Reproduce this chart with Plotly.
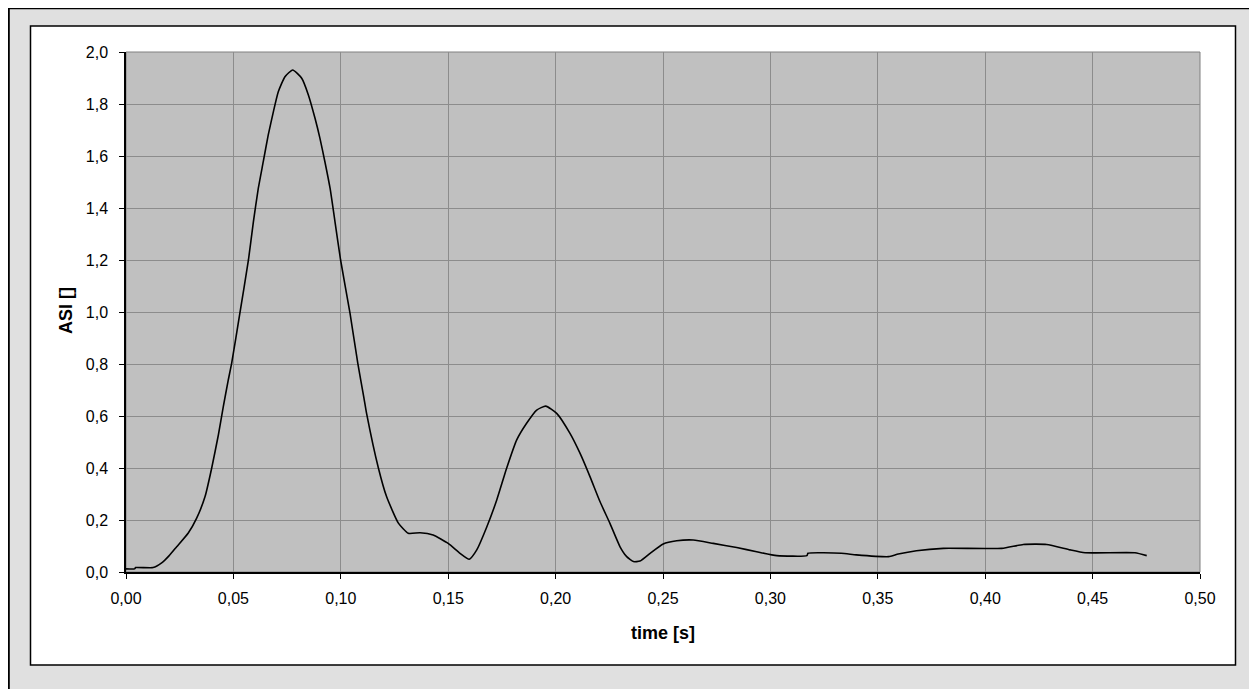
import plotly.graph_objects as go

time_s = [0.000, 0.004, 0.0045, 0.0126, 0.0166, 0.020, 0.0236, 0.029, 0.0329, 0.0368,
          0.0399, 0.043, 0.0453, 0.0476, 0.0492, 0.053, 0.057, 0.0593, 0.0616, 0.0639,
          0.0662, 0.0686, 0.0709, 0.074, 0.0776, 0.0818, 0.0849, 0.088, 0.0903, 0.0926,
          0.095, 0.0973, 0.0999, 0.1043, 0.1079, 0.1108, 0.112, 0.1175, 0.1213, 0.1268,
          0.1314, 0.1369, 0.143, 0.150, 0.1555, 0.1598, 0.1633, 0.168, 0.1726, 0.1772,
          0.1819, 0.1865, 0.1912, 0.1954, 0.2005, 0.2067, 0.2114, 0.216, 0.2207, 0.2253,
          0.230, 0.2331, 0.2362, 0.2393, 0.244, 0.2501, 0.2564, 0.2641, 0.2734, 0.2843,
          0.2936, 0.303, 0.317, 0.3175, 0.333, 0.340, 0.355, 0.3595, 0.368, 0.3805,
          0.4077, 0.4177, 0.4286, 0.4395, 0.4465, 0.4697, 0.4752]
asi = [0.012, 0.012, 0.017, 0.017, 0.035, 0.062, 0.097, 0.150, 0.207, 0.290,
       0.400, 0.527, 0.636, 0.738, 0.803, 0.995, 1.200, 1.347, 1.476, 1.578,
       1.680, 1.770, 1.847, 1.905, 1.931, 1.899, 1.835, 1.745, 1.668, 1.578,
       1.476, 1.347, 1.200, 0.995, 0.803, 0.668, 0.610, 0.400, 0.290, 0.188,
       0.149, 0.151, 0.142, 0.110, 0.072, 0.049, 0.085, 0.174, 0.277, 0.399,
       0.508, 0.572, 0.623, 0.638, 0.610, 0.533, 0.456, 0.367, 0.270, 0.187,
       0.097, 0.059, 0.040, 0.042, 0.072, 0.108, 0.120, 0.123, 0.110, 0.094,
       0.078, 0.063, 0.063, 0.072, 0.072, 0.066, 0.059, 0.069, 0.082, 0.091,
       0.091, 0.106, 0.106, 0.085, 0.074, 0.074, 0.063]

x_ticks = [0.0, 0.05, 0.10, 0.15, 0.20, 0.25, 0.30, 0.35, 0.40, 0.45, 0.50]
y_ticks = [0.0, 0.2, 0.4, 0.6, 0.8, 1.0, 1.2, 1.4, 1.6, 1.8, 2.0]

FONT = "Liberation Sans, Arial, sans-serif"

# the page body adds an 8px offset; figure coordinates = screen - 8
OFF = 8
W, H = 1257 - OFF, 689 - OFF
L, R, T, B = 126 - OFF, 1200 - OFF, 52 - OFF, 572 - OFF
pw, ph = R - L, B - T


def px(sx):
    return (sx - OFF - L) / pw


def py(sy):
    return (B - (sy - OFF)) / ph


fig = go.Figure()
fig.add_trace(go.Scatter(x=time_s, y=asi, mode="lines",
                         line=dict(color="black", width=1.6, shape="spline", smoothing=0.5),
                         showlegend=False, hoverinfo="skip"))

shapes = [
    # white chart box
    dict(type="rect", xref="paper", yref="paper", layer="below",
         x0=px(30.5), x1=px(1235.5), y0=py(665), y1=py(26),
         fillcolor="white", line=dict(color="black", width=1.5)),
    # plot area
    dict(type="rect", xref="paper", yref="paper", layer="below",
         x0=0, x1=1, y0=0, y1=1,
         fillcolor="#c0c0c0", line=dict(color="#808080", width=1)),
    # outer sheet lines
    dict(type="line", xref="paper", yref="paper",
         x0=px(8), x1=px(1257), y0=py(8.5), y1=py(8.5),
         line=dict(color="black", width=1.5)),
    dict(type="line", xref="paper", yref="paper",
         x0=px(8.8), x1=px(8.8), y0=py(8), y1=py(689),
         line=dict(color="black", width=2)),
]

annotations = [
    dict(text="<b>ASI []</b>", xref="paper", yref="paper",
         x=px(66), y=py(311), showarrow=False, textangle=-90,
         font=dict(family=FONT, size=18, color="black"),
         xanchor="center", yanchor="middle"),
    dict(text="<b>time [s]</b>", xref="paper", yref="paper",
         x=px(663), y=py(633), showarrow=False,
         font=dict(family=FONT, size=18, color="black"),
         xanchor="center", yanchor="middle"),
]

fig.update_layout(
    width=W, height=H,
    margin=dict(l=L, r=W - R, t=T, b=H - B, pad=0),
    paper_bgcolor="#e0e0e0",
    plot_bgcolor="#c0c0c0",
    separators=", ",
    font=dict(family=FONT, size=16, color="black"),
    shapes=shapes,
    annotations=annotations,
    xaxis=dict(range=[0, 0.5], tickvals=x_ticks, tickformat=".2f",
               showgrid=True, gridcolor="#8c8c8c", gridwidth=1,
               showline=True, linecolor="black", linewidth=1.5,
               ticks="outside", ticklen=5, tickcolor="black", tickwidth=1,
               zeroline=False, ticklabelstandoff=6,
               tickfont=dict(family=FONT, size=16, color="black")),
    yaxis=dict(range=[0, 2.0], tickvals=y_ticks, tickformat=".1f",
               showgrid=True, gridcolor="#8c8c8c", gridwidth=1,
               showline=True, linecolor="black", linewidth=1.5,
               ticks="outside", ticklen=5, tickcolor="black", tickwidth=1,
               zeroline=False, ticklabelstandoff=8,
               tickfont=dict(family=FONT, size=16, color="black")),
)

fig.write_html("out.html")
